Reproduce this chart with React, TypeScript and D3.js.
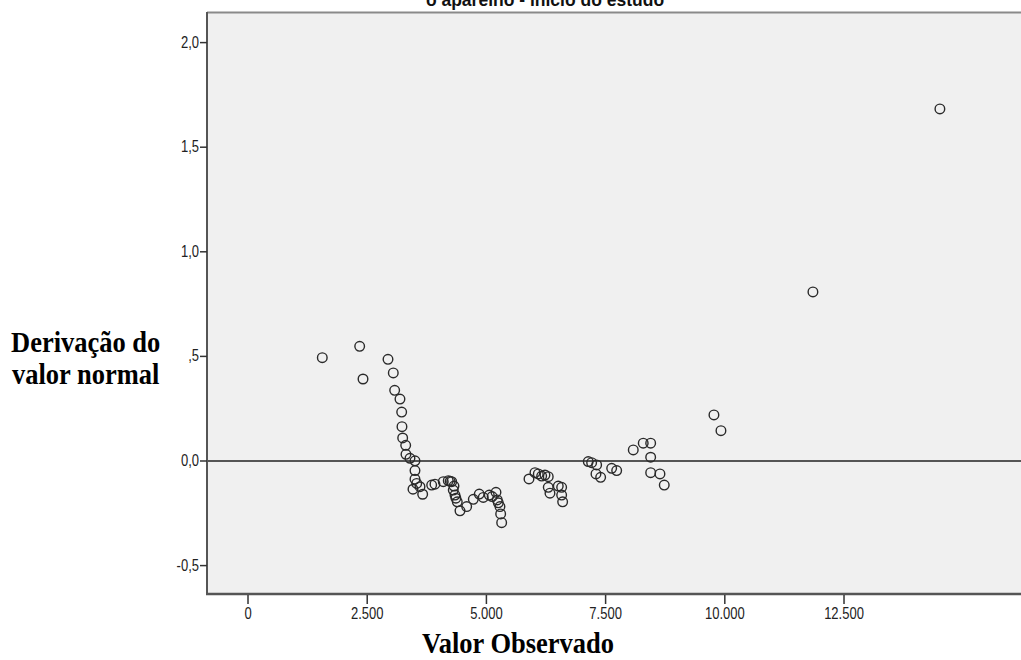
import React from "react";
import * as d3 from "d3";

// Detrended normal Q-Q plot: observed value vs. deviation from normal
const observed: number[] = [
  1558, 2342, 2412, 2936, 3047, 3076, 3187, 3223, 3229, 3244,
  3307, 3313, 3397, 3502, 3502, 3502, 3538, 3607, 3663, 3460,
  3852, 3921, 4095, 4200, 4240, 4272, 4305, 4320, 4341, 4360,
  4389, 4446, 4586, 4725, 4850, 4934, 5060, 5120, 5201, 5228,
  5250, 5284, 5299, 5320,
  5893, 6018, 6088, 6159, 6228, 6297, 6297, 6333, 6507, 6578,
  6578, 6599, 7136, 7207, 7312, 7298, 7396, 7627, 7732, 8080,
  8289, 8445, 8445, 8445, 8640, 8730, 9772, 9919, 11848, 14511,
];

const deviation: number[] = [
  0.494, 0.548, 0.392, 0.486, 0.421, 0.338, 0.296, 0.234, 0.164, 0.11,
  0.075, 0.032, 0.013, 0.001, -0.046, -0.087, -0.107, -0.123, -0.159, -0.135,
  -0.115, -0.111, -0.099, -0.094, -0.097, -0.099, -0.139, -0.12, -0.163, -0.178,
  -0.195, -0.238, -0.218, -0.183, -0.158, -0.174, -0.163, -0.17, -0.15, -0.186,
  -0.2, -0.218, -0.253, -0.295,
  -0.086, -0.056, -0.062, -0.072, -0.067, -0.075, -0.126, -0.154, -0.12, -0.126,
  -0.163, -0.195, -0.003, -0.008, -0.019, -0.062, -0.078, -0.035, -0.046, 0.053,
  0.085, 0.085, 0.018, -0.056, -0.062, -0.115, 0.22, 0.145, 0.808, 1.683,
];

const xTicks: number[] = [0, 2500, 5000, 7500, 10000, 12500];
const xTickLabels: string[] = ["0", "2.500", "5.000", "7.500", "10.000", "12.500"];
const yTicks: number[] = [2.0, 1.5, 1.0, 0.5, 0.0, -0.5];
const yTickLabels: string[] = ["2,0", "1,5", "1,0", ",5", "0,0", "-0,5"];

const W = 1021;
const H = 660;
const plot = { left: 207, right: 1021, top: 12, bottom: 594 };

export default function App() {
  const x = d3.scaleLinear().domain([-860, 16212]).range([plot.left, plot.right]);
  const y = d3.scaleLinear().domain([-0.6358, 2.1463]).range([plot.bottom, plot.top]);
  const points = d3.zip(observed, deviation) as [number, number][];

  const sans = "'Liberation Sans', Arial, sans-serif";
  const serif = "'Liberation Serif', 'Times New Roman', serif";

  return (
    <svg
      width={W}
      height={H}
      style={{ position: "absolute", left: 0, top: 0, background: "#fff" }}
    >
      <text
        x={545}
        y={6}
        textAnchor="middle"
        fontFamily={sans}
        fontWeight="bold"
        fontSize={17.5}
        fill="#111"
      >
        o aparelho - início do estudo
      </text>

      {/* plot area */}
      <rect
        x={plot.left}
        y={plot.top}
        width={plot.right - plot.left}
        height={plot.bottom - plot.top}
        fill="#f0f0f0"
      />
      <line x1={plot.left} x2={plot.right} y1={plot.top + 0.5} y2={plot.top + 0.5} stroke="#8a8a8a" strokeWidth={2} />

      {/* zero reference line */}
      <line x1={plot.left} x2={plot.right} y1={y(0)} y2={y(0)} stroke="#555" strokeWidth={2} />

      {points.map(([vx, vy], i) => (
        <circle key={i} cx={x(vx)} cy={y(vy)} r={4.8} fill="none" stroke="#2a2a2a" strokeWidth={1.4} />
      ))}

      {/* axes */}
      <line x1={plot.left} x2={plot.left} y1={plot.top} y2={plot.bottom + 1} stroke="#555" strokeWidth={2} />
      <line x1={plot.left - 1} x2={plot.right} y1={plot.bottom} y2={plot.bottom} stroke="#555" strokeWidth={2.5} />

      {yTicks.map((t, i) => (
        <g key={"y" + i}>
          <line x1={plot.left - 7} x2={plot.left} y1={y(t)} y2={y(t)} stroke="#333" strokeWidth={1.5} />
          <text
            transform={`translate(${plot.left - 8},${y(t) + 5}) scale(1,1.2)`}
            textAnchor="end"
            fontFamily={sans}
            fontSize={13}
            fill="#222"
          >
            {yTickLabels[i]}
          </text>
        </g>
      ))}

      {xTicks.map((t, i) => (
        <g key={"x" + i}>
          <line x1={x(t)} x2={x(t)} y1={plot.bottom + 1} y2={plot.bottom + 10} stroke="#333" strokeWidth={1.5} />
          <text
            transform={`translate(${x(t)},${plot.bottom + 25}) scale(1,1.2)`}
            textAnchor="middle"
            fontFamily={sans}
            fontSize={13}
            fill="#222"
          >
            {xTickLabels[i]}
          </text>
        </g>
      ))}

      {/* axis titles */}
      <text
        transform="translate(11,352) scale(1,1.12)"
        fontFamily={serif}
        fontWeight="bold"
        fontSize={26.5}
        fill="#000"
      >
        Derivação do
      </text>
      <text
        transform="translate(12,384) scale(1,1.12)"
        fontFamily={serif}
        fontWeight="bold"
        fontSize={26.5}
        fill="#000"
      >
        valor normal
      </text>
      <text
        transform="translate(518,653) scale(1,1.12)"
        textAnchor="middle"
        fontFamily={serif}
        fontWeight="bold"
        fontSize={26.5}
        fill="#000"
      >
        Valor Observado
      </text>
    </svg>
  );
}
